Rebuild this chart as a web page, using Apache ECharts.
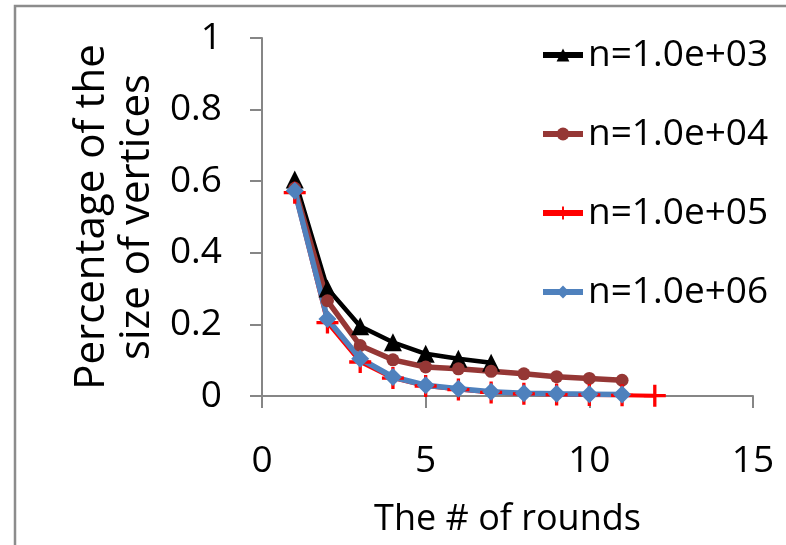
<!DOCTYPE html>
<html>
<head>
<meta charset="utf-8">
<script src="https://cdn.jsdelivr.net/npm/echarts@6/dist/echarts.min.js"></script>
<style>
  html, body { margin: 0; padding: 0; background: #fff; }
  #chart { width: 786px; height: 545px; }
</style>
</head>
<body>
<div id="chart"></div>
<script>
// Rounds (x) and fraction of remaining vertices (y) per graph size
const rounds = [1, 2, 3, 4, 5, 6, 7, 8, 9, 10, 11, 12];
const seriesNames = ['n=1.0e+03', 'n=1.0e+04', 'n=1.0e+05', 'n=1.0e+06'];
const n1e3 = [0.605, 0.30, 0.195, 0.15, 0.118, 0.104, 0.093];
const n1e4 = [0.58, 0.266, 0.141, 0.101, 0.081, 0.076, 0.069, 0.062, 0.054, 0.049, 0.044];
const n1e5 = [0.568, 0.205, 0.095, 0.05, 0.028, 0.018, 0.01, 0.006, 0.004, 0.003, 0.002, 0.001];
const n1e6 = [0.573, 0.215, 0.104, 0.053, 0.030, 0.020, 0.012, 0.008, 0.006, 0.005, 0.004];
const xTicks = [0, 5, 10, 15];
const yTicks = [0, 0.2, 0.4, 0.6, 0.8, 1];

const FONT = '"Open Sans", "Noto Sans", sans-serif';
const AXIS_GRAY = '#868686';

function pairs(vals) {
  return vals.map((v, i) => [rounds[i], v]);
}

const plusPath = 'path://M8.5,0H11.5V8.5H20V11.5H11.5V20H8.5V11.5H0V8.5H8.5Z';

const chart = echarts.init(document.getElementById('chart'), null, { renderer: 'canvas' });

chart.setOption({
  animation: false,
  backgroundColor: '#ffffff',
  graphic: [{
    type: 'rect',
    shape: { x: 15, y: 6, width: 820, height: 600 },
    style: { fill: 'none', stroke: '#8c8c8c', lineWidth: 2.5 },
    silent: true,
    z: -10
  }],
  grid: { left: 262, right: 33, top: 38, bottom: 147, containLabel: false },
  legend: {
    orient: 'vertical',
    left: 540,
    top: 35,
    padding: 0,
    itemWidth: 40,
    itemHeight: 16,
    itemGap: 39,
    lineStyle: { width: 6 },
    textStyle: { fontFamily: FONT, fontSize: 37, color: '#000', lineHeight: 40 },
    data: seriesNames
  },
  xAxis: {
    type: 'value',
    min: xTicks[0],
    max: xTicks[xTicks.length - 1],
    interval: 5,
    name: 'The # of rounds',
    nameLocation: 'middle',
    nameGap: 104,
    nameTextStyle: { fontFamily: FONT, fontSize: 36, color: '#000', lineHeight: 40 },
    axisLine: { show: true, onZero: false, lineStyle: { color: AXIS_GRAY, width: 2 } },
    axisTick: { show: true, inside: false, length: 12, lineStyle: { color: AXIS_GRAY, width: 2 } },
    axisLabel: { fontFamily: FONT, fontSize: 37, color: '#000', margin: 45, lineHeight: 40 },
    splitLine: { show: false }
  },
  yAxis: {
    type: 'value',
    min: yTicks[0],
    max: yTicks[yTicks.length - 1],
    interval: 0.2,
    name: 'Percentage of the\nsize of vertices',
    nameLocation: 'middle',
    nameRotate: 90,
    nameGap: 90,
    nameTextStyle: { fontFamily: FONT, fontSize: 42, color: '#000', lineHeight: 45 },
    axisLine: { show: true, onZero: false, lineStyle: { color: AXIS_GRAY, width: 2 } },
    axisTick: { show: true, inside: false, length: 12, lineStyle: { color: AXIS_GRAY, width: 2 } },
    axisLabel: {
      fontFamily: FONT, fontSize: 37, color: '#000', margin: 40,
      formatter: v => (v === 0 || v === 1) ? String(v) : v.toFixed(1)
    },
    splitLine: { show: false }
  },
  series: [
    {
      name: seriesNames[0], type: 'line', data: pairs(n1e3),
      symbol: 'triangle', symbolSize: 18, showAllSymbol: true,
      lineStyle: { color: '#000000', width: 4.5 },
      itemStyle: { color: '#000000' }
    },
    {
      name: seriesNames[1], type: 'line', data: pairs(n1e4),
      symbol: 'circle', symbolSize: 13, showAllSymbol: true,
      lineStyle: { color: '#953735', width: 5.5 },
      itemStyle: { color: '#953735' }
    },
    {
      name: seriesNames[2], type: 'line', data: pairs(n1e5),
      symbol: plusPath, symbolSize: 22, showAllSymbol: true,
      lineStyle: { color: '#ff0000', width: 4 },
      itemStyle: { color: '#ff0000' }
    },
    {
      name: seriesNames[3], type: 'line', data: pairs(n1e6),
      symbol: 'diamond', symbolSize: 18, showAllSymbol: true,
      lineStyle: { color: '#4f81bd', width: 5.5 },
      itemStyle: { color: '#4f81bd' }
    }
  ]
});
</script>
</body>
</html>
